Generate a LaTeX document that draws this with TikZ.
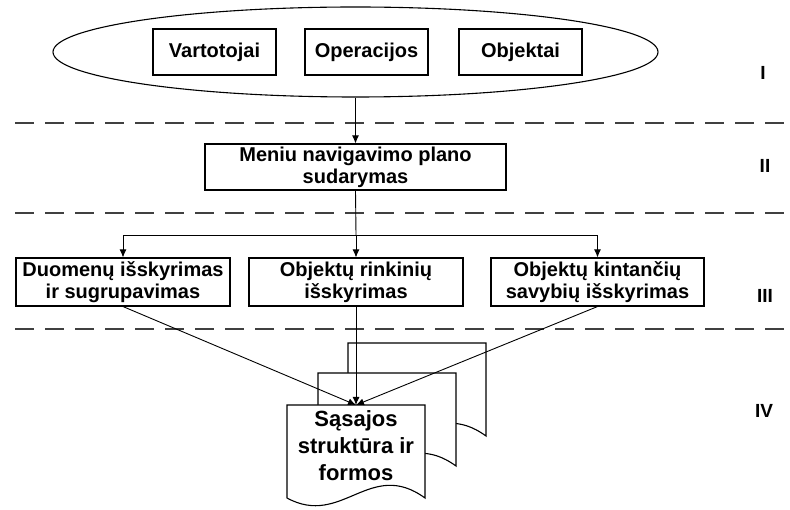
\documentclass[tikz,border=0pt]{standalone}
\usepackage{fontspec}
\setmainfont{Liberation Sans}
\usetikzlibrary{arrows.meta,shapes.geometric}
\begin{document}
\begin{tikzpicture}[x=1pt,y=-1pt,
  every node/.style={font=\fontsize{20}{22}\selectfont\bfseries},
  entity/.style={draw,line width=1.1pt,fill=white,minimum width=123pt,minimum height=46pt,inner sep=0pt},
  stage/.style={draw,line width=1.1pt,fill=white,minimum height=48pt,inner sep=0pt,align=center},
  level/.style={font=\fontsize{19}{21}\selectfont\bfseries,inner sep=0pt},
  doctext/.style={font=\fontsize{22}{27}\selectfont\bfseries,align=center,inner sep=0pt},
  link/.style={line width=0.9pt,-{Latex[length=8pt,width=7pt]}},
  plain/.style={line width=0.9pt},
  separator/.style={line width=1.4pt,draw=black!75,dash pattern=on 19pt off 11pt},
  docsheet/.pic={
    \draw[line width=1.1pt,fill=white] (0,0) -- (138,0) -- (138,93)
      .. controls (83,53) and (55,123) .. (0,93) -- cycle;
  }]
\useasboundingbox (0,0) rectangle (790,510);

% level separators
\draw[separator] (15,123) -- (790,123);
\draw[separator] (15,213) -- (790,213);
\draw[separator] (15,329) -- (790,329);

% level I: the three inputs inside an ellipse
\node[draw,ellipse,line width=1.1pt,minimum width=605pt,minimum height=90pt,inner sep=0pt] (ell) at (355.5,52) {};
\node[entity] (users) at (214.5,52) {Vartotojai};
\node[entity] (ops) at (366.5,52) {Operacijos};
\node[entity] (objs) at (520.5,52) {Objektai};

% level II
\node[stage,minimum width=301pt,minimum height=46pt] (menu) at (355.5,167) {Meniu navigavimo plano\\sudarymas};

% level III
\node[stage,minimum width=214pt] (duo) at (123,282) {Duomenų išskyrimas\\ir sugrupavimas};
\node[stage,minimum width=214pt] (rin) at (356,282) {Objektų rinkinių\\išskyrimas};
\node[stage,minimum width=213pt] (kin) at (597.5,282) {Objektų kintančių\\savybių išskyrimas};

% level IV: stacked document sheets
\pic at (348,343) {docsheet};
\pic at (318,373) {docsheet};
\pic at (287,405) {docsheet};
\coordinate (dtop) at (356,405);
\node[doctext] (doc) at (356,446) {Sąsajos\\struktūra ir\\formos};

% level labels
\node[level] (l1) at (763,73) {I};
\node[level] (l2) at (765,166) {II};
\node[level] (l3) at (765,296) {III};
\node[level] (l4) at (764,411) {IV};

% connectors
\draw[link] (ell.south) -- (menu.north);
\coordinate (bus) at (356,235);
\draw[plain] (menu.south) -- (bus);
\draw[link] (bus) -| (duo.north);
\draw[link] (bus) -| (kin.north);
\draw[link] (bus) -- (rin.north);
\draw[link] (duo.south) -- (dtop);
\draw[link] (rin.south) -- (dtop);
\draw[link] (kin.south) -- (dtop);
\end{tikzpicture}
\end{document}
